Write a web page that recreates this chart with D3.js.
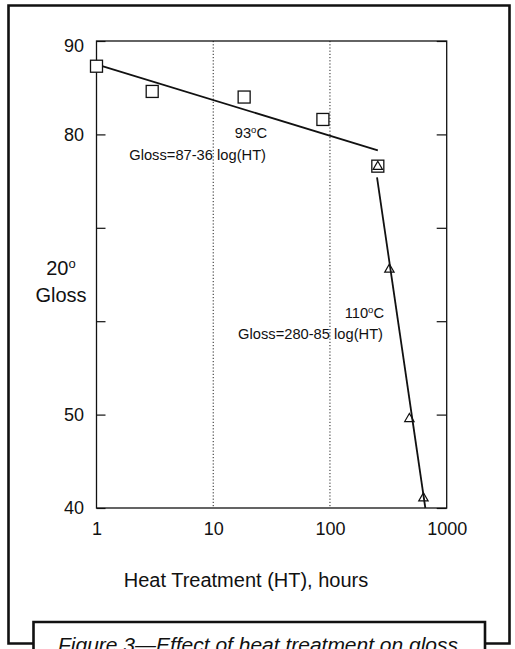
<!DOCTYPE html>
<html><head><meta charset="utf-8">
<script src="https://cdn.jsdelivr.net/npm/d3@7"></script>
<style>
html,body{margin:0;padding:0;background:#fff;}
svg{display:block;font-family:"Liberation Sans",Arial,Helvetica,sans-serif;}
</style></head>
<body>
<script>
// ---- data ----
const hours93  = [1, 3, 18.4, 87, 257];
const gloss93  = [87.3, 84.6, 84.0, 81.6, 76.6];
const hours110 = [257, 323, 479, 632];
const gloss110 = [76.6, 65.6, 49.6, 41.1];
const fitHours93  = [1, 257];
const fitGloss93  = [87.5, 78.3];
const fitHours110 = [253, 656];
const fitGloss110 = [75.4, 40];
const yTicks = [90, 80, 70, 60, 50, 40];
const yTickLabels = ["90", "80", "", "", "50", "40"];
const xTicks = [1, 10, 100, 1000];
const xTickLabels = ["1", "10", "100", "1000"];
const gridHours = [10, 100];

const W = 515, H = 649;
const svg = d3.select("body").append("svg").attr("width", W).attr("height", H);
svg.append("rect").attr("width", W).attr("height", H).attr("fill", "#fff");

const x = d3.scaleLog().domain([1, 1000]).range([96.5, 446.7]);
const y = d3.scaleLinear().domain([40, 90]).range([508, 41]);

// outer frame
svg.append("path")
  .attr("d", "M33,643.5 H8.5 V5.5 H509.5 V643.5 H485")
  .attr("fill", "none").attr("stroke", "#111").attr("stroke-width", 2.6);
// caption box
svg.append("path")
  .attr("d", "M33.5,660 V622 H485 V660")
  .attr("fill", "#fff").attr("stroke", "#111").attr("stroke-width", 2.6);
svg.append("text")
  .attr("x", 58).attr("y", 652)
  .attr("font-style", "italic").attr("font-size", 19.5)
  .attr("textLength", 400).attr("lengthAdjust", "spacingAndGlyphs")
  .attr("fill", "#111")
  .text("Figure 3\u2014Effect of heat treatment on gloss");

// grid lines (dotted)
svg.append("g").selectAll("line").data(gridHours).join("line")
  .attr("x1", d => x(d)).attr("x2", d => x(d))
  .attr("y1", y(90)).attr("y2", y(40))
  .attr("stroke", "#222").attr("stroke-width", 1).attr("stroke-dasharray", "1.2,2");

// left axis with inward ticks
const gl = svg.append("g").attr("transform", `translate(${x(1)},0)`)
  .call(d3.axisLeft(y).tickValues(yTicks)
    .tickFormat((d, i) => yTickLabels[i]).tickSize(-9).tickPadding(12.5));
gl.select(".domain").remove();
gl.selectAll("line").attr("stroke", "#111").attr("stroke-width", 1.2);
gl.selectAll("text").attr("font-size", 18).attr("fill", "#111")
  .attr("font-family", "'Liberation Sans',Arial,sans-serif")
  .attr("dy", (d) => d === 90 ? "0.57em" : "0.32em");

// right axis with inward ticks
const gr = svg.append("g").attr("transform", `translate(${x(1000)},0)`)
  .call(d3.axisRight(y).tickValues(yTicks).tickFormat("").tickSize(-10));
gr.select(".domain").remove();
gr.selectAll("line").attr("stroke", "#111").attr("stroke-width", 1.2);

// bottom axis labels
const gb = svg.append("g").attr("transform", `translate(0,${y(40)})`)
  .call(d3.axisBottom(x).tickValues(xTicks)
    .tickFormat((d, i) => xTickLabels[i]).tickSize(0).tickPadding(14));
gb.select(".domain").remove();
gb.selectAll("text").attr("font-size", 18).attr("fill", "#111")
  .attr("font-family", "'Liberation Sans',Arial,sans-serif");

// plot frame
svg.append("rect")
  .attr("x", x(1)).attr("y", y(90))
  .attr("width", x(1000) - x(1)).attr("height", y(40) - y(90))
  .attr("fill", "none").attr("stroke", "#111").attr("stroke-width", 1.3);

// fit lines
const line = d3.line().x(d => x(d[0])).y(d => y(d[1]));
svg.append("path").datum(d3.zip(fitHours93, fitGloss93))
  .attr("d", line).attr("fill", "none").attr("stroke", "#111").attr("stroke-width", 1.8);
svg.append("path").datum(d3.zip(fitHours110, fitGloss110))
  .attr("d", line).attr("fill", "none").attr("stroke", "#111").attr("stroke-width", 1.8);

// square markers (93 C)
const sq = 12;
svg.append("g").selectAll("rect").data(d3.zip(hours93, gloss93)).join("rect")
  .attr("x", d => x(d[0]) - sq / 2).attr("y", d => y(d[1]) - sq / 2)
  .attr("width", sq).attr("height", sq)
  .attr("fill", "#fff").attr("stroke", "#111").attr("stroke-width", 1.3);

// triangle markers (110 C)
const tri = d3.symbol().type(d3.symbolTriangle).size(38);
svg.append("g").selectAll("path").data(d3.zip(hours110, gloss110)).join("path")
  .attr("transform", d => `translate(${x(d[0])},${y(d[1]) + 0.5})`)
  .attr("d", tri)
  .attr("fill", "none").attr("stroke", "#111").attr("stroke-width", 1.2);

// annotations
function degLabel(xp, yp, num, anchor) {
  const t = svg.append("text").attr("x", xp).attr("y", yp)
    .attr("text-anchor", anchor).attr("font-size", 14.7).attr("fill", "#111");
  t.append("tspan").text(num);
  t.append("tspan").attr("font-size", 9.5).attr("dy", -5).text("o");
  t.append("tspan").attr("dy", 5).text("C");
  return t;
}
degLabel(267, 138, "93", "end");
svg.append("text").attr("x", 266).attr("y", 159.5).attr("text-anchor", "end")
  .attr("font-size", 14.7).attr("fill", "#111").text("Gloss=87-36 log(HT)");
degLabel(384, 318, "110", "end");
svg.append("text").attr("x", 383).attr("y", 338.5).attr("text-anchor", "end")
  .attr("font-size", 14.7).attr("fill", "#111").text("Gloss=280-85 log(HT)");

// y title
const yt = svg.append("text").attr("x", 61).attr("y", 275).attr("text-anchor", "middle")
  .attr("font-size", 20).attr("fill", "#111");
yt.append("tspan").text("20");
yt.append("tspan").attr("font-size", 13).attr("dy", -7).text("o");
svg.append("text").attr("x", 61).attr("y", 301.5).attr("text-anchor", "middle")
  .attr("font-size", 20).attr("fill", "#111").text("Gloss");

// x title
svg.append("text").attr("x", 246).attr("y", 587).attr("text-anchor", "middle")
  .attr("font-size", 20).attr("fill", "#111").text("Heat Treatment (HT), hours");
</script>
</body></html>
